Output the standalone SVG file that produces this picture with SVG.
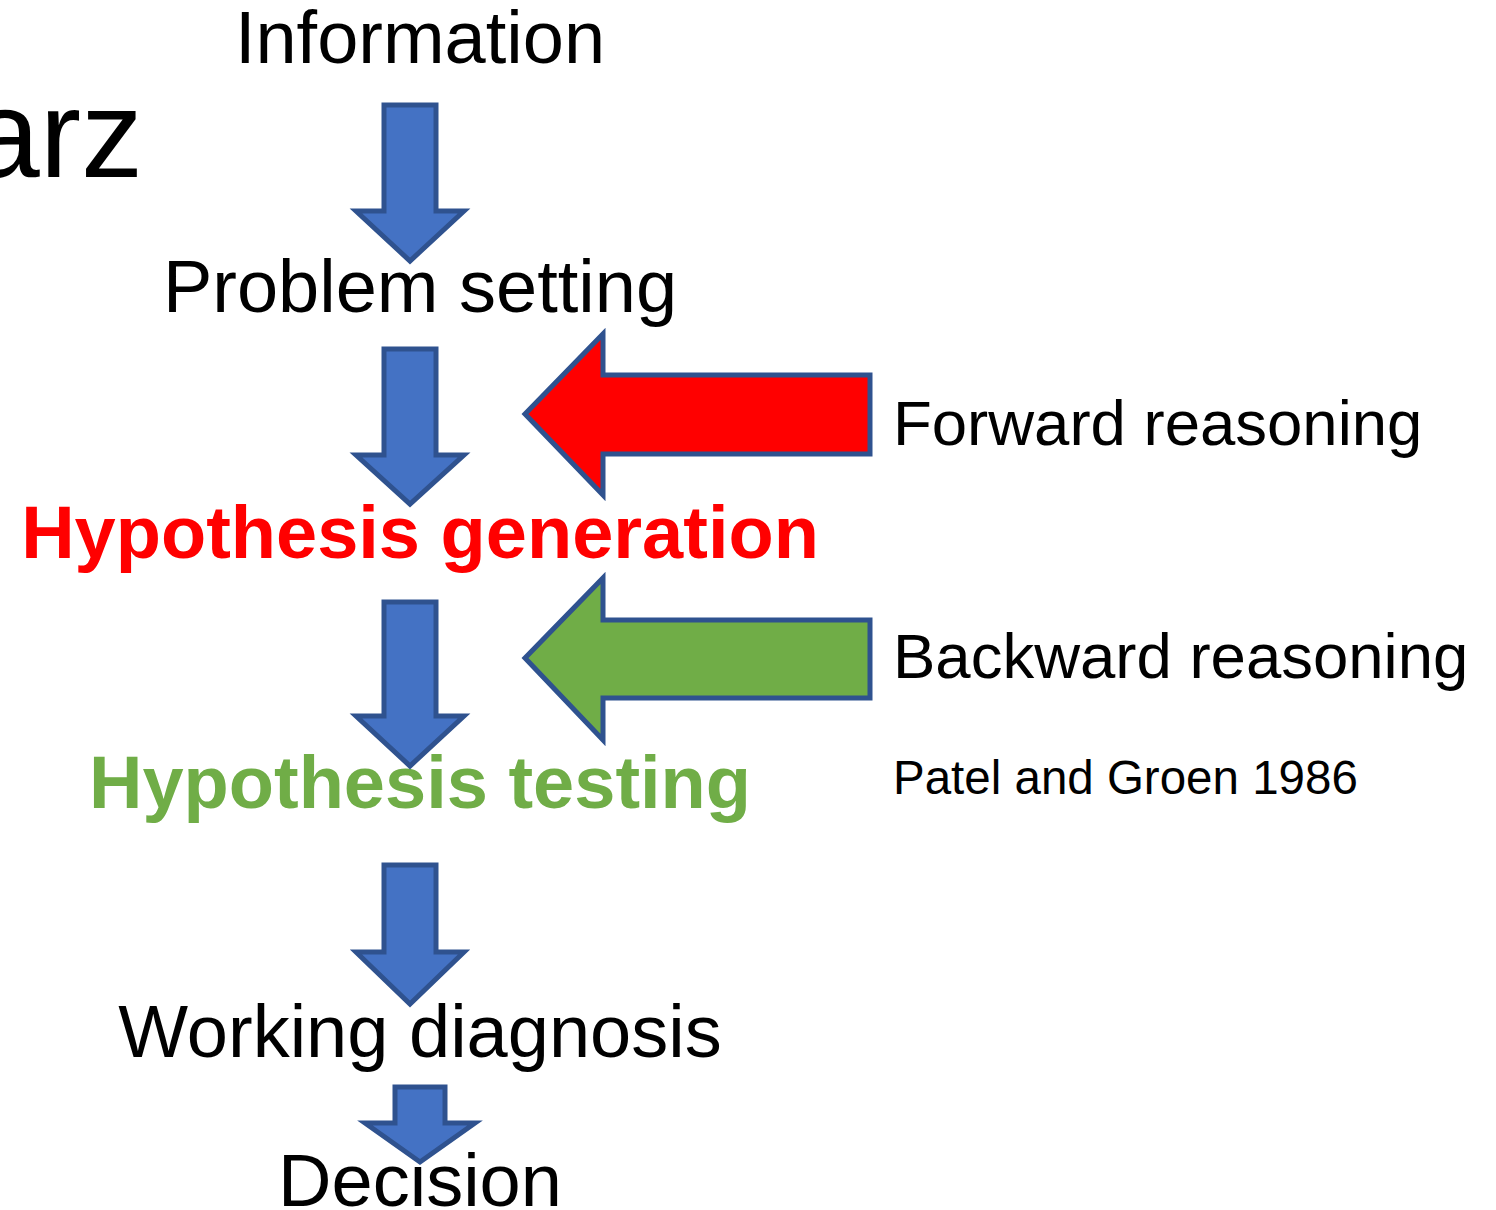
<svg xmlns="http://www.w3.org/2000/svg" width="1496" height="1210" viewBox="0 0 1496 1210">
<style>
.t{font-family:"Liberation Sans",Arial,sans-serif;fill:#000}
.c{text-anchor:middle;font-size:74px}
.b{font-weight:bold}
.down{fill:#4472C4;stroke:#2F528F;stroke-width:5;stroke-linejoin:miter}
.side{stroke:#2F528F;stroke-width:5;stroke-linejoin:miter}
</style>
<rect width="1496" height="1210" fill="#fff"/>
<text class="t" x="143" y="177" font-size="124" text-anchor="end">arz</text>
<g id="information"><text class="t c" x="420" y="63">Information</text></g>
<g id="problem-setting"><text class="t c" x="420" y="312">Problem setting</text></g>
<g id="hypothesis-generation"><text class="t c b" x="420" y="558" style="fill:#FF0000">Hypothesis generation</text></g>
<g id="hypothesis-testing"><text class="t c b" x="420" y="808" style="fill:#70AD47">Hypothesis testing</text></g>
<g id="working-diagnosis"><text class="t c" x="420" y="1057">Working diagnosis</text></g>
<g id="decision"><text class="t c" x="420" y="1206">Decision</text></g>
<g id="forward-reasoning"><text class="t" x="893" y="445" font-size="63.5">Forward reasoning</text></g>
<g id="backward-reasoning"><text class="t" x="893" y="678" font-size="63.5">Backward reasoning</text></g>
<g id="citation"><text class="t" x="893" y="794" font-size="47.5">Patel and Groen 1986</text></g>
<g id="connectors">
<polygon class="down" points="384,105 436,105 436,211 464,211 410,261 356,211 384,211"/>
<polygon class="down" points="384,349 436,349 436,455 464,455 410,504 356,455 384,455"/>
<polygon class="down" points="384,602 436,602 436,716 464,716 410,766 356,716 384,716"/>
<polygon class="down" points="384,865 436,865 436,952 464,952 410,1004 356,952 384,952"/>
<polygon class="down" points="395,1087 445,1087 445,1123 475,1123 420,1162 365,1123 395,1123"/>
<polygon class="side" fill="#FF0000" points="870,375 603,375 603,334 525,414 603,495 603,454 870,454"/>
<polygon class="side" fill="#70AD47" points="870,620 603,620 603,578 525,658 603,740 603,698 870,698"/>
</g>
</svg>
